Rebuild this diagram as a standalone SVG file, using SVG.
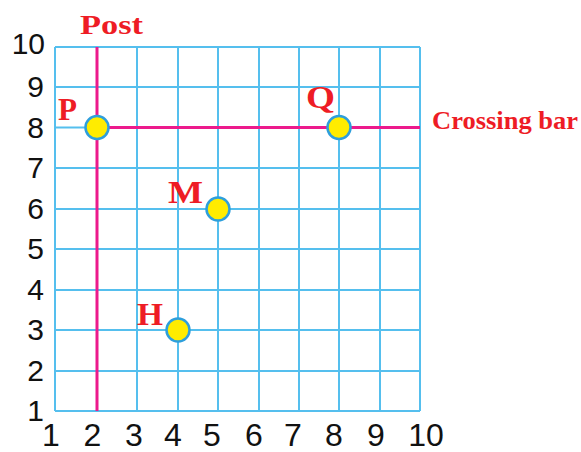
<svg xmlns="http://www.w3.org/2000/svg" width="581" height="452" viewBox="0 0 581 452">
<style>
.grid{stroke:#55bfee;stroke-width:2;fill:none}
.bar{stroke:#ec1a8c;stroke-width:3;fill:none}
.pt{fill:#ffec00;stroke:#2e9fdc;stroke-width:2.5}
.lbl{font-family:"Liberation Serif","Times New Roman",serif;font-weight:bold;fill:#ee1c25}
.num{font-family:"Liberation Sans",Arial,sans-serif;fill:#111}
</style>
<rect width="581" height="452" fill="#fff"/>
<g id="grid" class="grid">
<path d="M55,47V411M97,47V411M137,47V411M178,47V411M218,47V411M259,47V411M299,47V411M339,47V411M380,47V411M420,47V411"/>
<path d="M55,47H420M55,87H420M55,127.5H420M55,168H420M55,209H420M55,249H420M55,290H420M55,330H420M55,371H420M55,411H420"/>
</g>
<g id="y-axis" class="num" font-size="30" text-anchor="end">
<text x="45" y="54">10</text>
<text x="44" y="97">9</text>
<text x="44" y="137.5">8</text>
<text x="44" y="178">7</text>
<text x="44" y="219">6</text>
<text x="44" y="259">5</text>
<text x="44" y="300">4</text>
<text x="44" y="340">3</text>
<text x="44" y="381">2</text>
<text x="44" y="421">1</text>
</g>
<g id="x-axis" class="num" font-size="32" text-anchor="middle">
<text x="51" y="446">1</text>
<text x="92.5" y="446">2</text>
<text x="134" y="446">3</text>
<text x="173" y="446">4</text>
<text x="212" y="446">5</text>
<text x="254" y="446">6</text>
<text x="293" y="446">7</text>
<text x="334" y="446">8</text>
<text x="376" y="446">9</text>
<text x="426" y="446">10</text>
</g>
<g id="connectors">
<line id="post" class="bar" x1="97" y1="47" x2="97" y2="411"/>
<line id="crossing-bar" class="bar" x1="97" y1="127.5" x2="420" y2="127.5"/>
</g>
<g id="label-post"><text class="lbl" x="80" y="34" font-size="27" textLength="63" lengthAdjust="spacingAndGlyphs">Post</text></g>
<g id="label-crossing"><text class="lbl" x="432" y="129" font-size="25" textLength="146" lengthAdjust="spacingAndGlyphs">Crossing bar</text></g>
<g id="node-P">
<circle class="pt" cx="97" cy="127.5" r="11.5"/>
<text class="lbl" x="58" y="120" font-size="31" textLength="19" lengthAdjust="spacingAndGlyphs">P</text>
</g>
<g id="node-Q">
<circle class="pt" cx="339" cy="127.5" r="11.5"/>
<text class="lbl" x="306" y="108" font-size="31" textLength="29" lengthAdjust="spacingAndGlyphs">Q</text>
</g>
<g id="node-M">
<circle class="pt" cx="218" cy="209" r="11.5"/>
<text class="lbl" x="168" y="203" font-size="31" textLength="35" lengthAdjust="spacingAndGlyphs">M</text>
</g>
<g id="node-H">
<circle class="pt" cx="178" cy="330" r="11.5"/>
<text class="lbl" x="137" y="325" font-size="31" textLength="26" lengthAdjust="spacingAndGlyphs">H</text>
</g>
</svg>
